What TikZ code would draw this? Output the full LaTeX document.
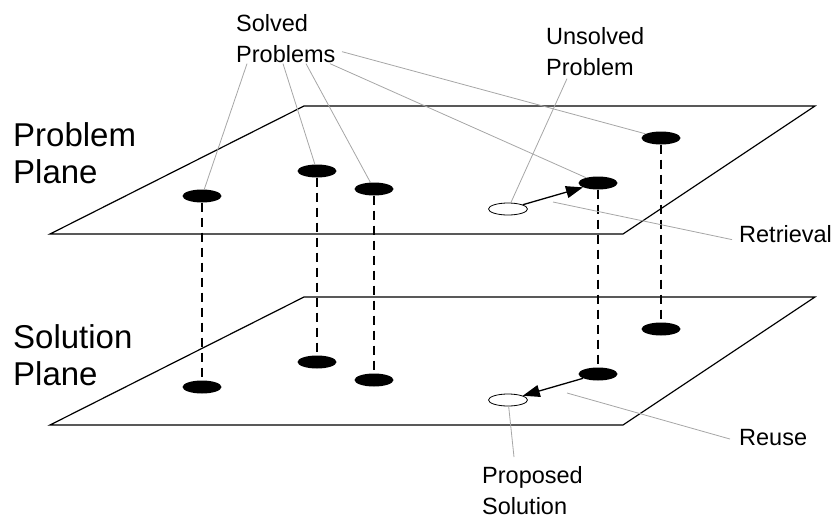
\documentclass[tikz,border=0pt]{standalone}
\usepackage{fontspec}
\setmainfont{Liberation Sans}
\usetikzlibrary{shapes.geometric,arrows.meta}

\begin{document}
\begin{tikzpicture}[x=1pt,y=-1pt,
    case/.style={ellipse, fill=black, minimum width=39pt, minimum height=13pt, inner sep=0pt},
    newcase/.style={ellipse, draw, fill=white, line width=0.8pt, minimum width=39pt, minimum height=12pt, inner sep=0pt},
    lbl/.style={font=\fontsize{23.5}{31}\selectfont, align=left, inner sep=0pt},
    big/.style={font=\fontsize{33}{37}\selectfont, align=left, inner sep=0pt, anchor=north west},
    leader/.style={draw=black!35, line width=0.8pt},
    link/.style={dash pattern=on 9pt off 6pt, line width=1.1pt},
    move/.style={line width=1.3pt, -{Triangle[length=17pt,width=12pt]}}]
    \useasboundingbox (0,0) rectangle (839,520);
    % the two planes
    \draw[line width=1.2pt] (50,234) -- (304,106) -- (815,106) -- (623,234) -- cycle;
    \draw[line width=1.2pt] (50,425) -- (304,297) -- (815,297) -- (623,425) -- cycle;
    \node[big] (probplane) at (13,122) {Problem\\Plane};
    \node[big] (solplane) at (13,324) {Solution\\Plane};
    % cases in the problem plane
    \node[case] (p1) at (202,196) {};
    \node[case] (p2) at (317,171) {};
    \node[case] (p3) at (374,189) {};
    \node[case] (p4) at (598,183) {};
    \node[case] (p5) at (661,138) {};
    \node[newcase] (pu) at (508,209) {};
    % cases in the solution plane
    \node[case] (s1) at (202,387) {};
    \node[case] (s2) at (317,362) {};
    \node[case] (s3) at (374,380) {};
    \node[case] (s4) at (598,374) {};
    \node[case] (s5) at (661,329) {};
    \node[newcase] (sp) at (508,400) {};
    \foreach \i in {1,...,5}
        \draw[link] (p\i) -- (s\i);
    \draw[move] (pu) -- (p4);
    \draw[move] (s4) -- (sp);
    % labels
    \node[lbl, anchor=north west] (solved) at (236,14) {Solved\\Problems};
    \node[lbl, anchor=north west] (unsolved) at (546,27) {Unsolved\\Problem};
    \node[lbl, anchor=base west] (retrieval) at (739,242) {Retrieval};
    \node[lbl, anchor=base west] (reuse) at (739,445) {Reuse};
    \node[lbl, anchor=north west] (proposed) at (482,466) {Proposed\\Solution};
    \coordinate (retr) at (553,202);
    \coordinate (reu) at (567,393);
    \draw[leader] ([shift={(11,1)}]solved.south west) -- ([shift={(13,-13)}]p1);
    \draw[leader] ([shift={(47,1)}]solved.south west) -- ([shift={(-13,-14)}]p2);
    \draw[leader] ([shift={(70,1)}]solved.south west) -- ([shift={(-6,-19)}]p3);
    \draw[leader] ([shift={(94,1)}]solved.south west) -- ([shift={(-26,-13)}]p4);
    \draw[leader] ([shift={(106,-11)}]solved.south west) -- ([shift={(-26,-6)}]p5);
    \draw[leader] ([shift={(21,3)}]unsolved.south west) -- ([shift={(7,-14)}]pu);
    \draw[leader] ([shift={(-7,6)}]retrieval.west) -- (retr);
    \draw[leader] ([shift={(-9,2)}]reuse.west) -- (reu);
    \draw[leader] ([shift={(32,-9)}]proposed.north west) -- ([shift={(1,16)}]sp);
\end{tikzpicture}
\end{document}
